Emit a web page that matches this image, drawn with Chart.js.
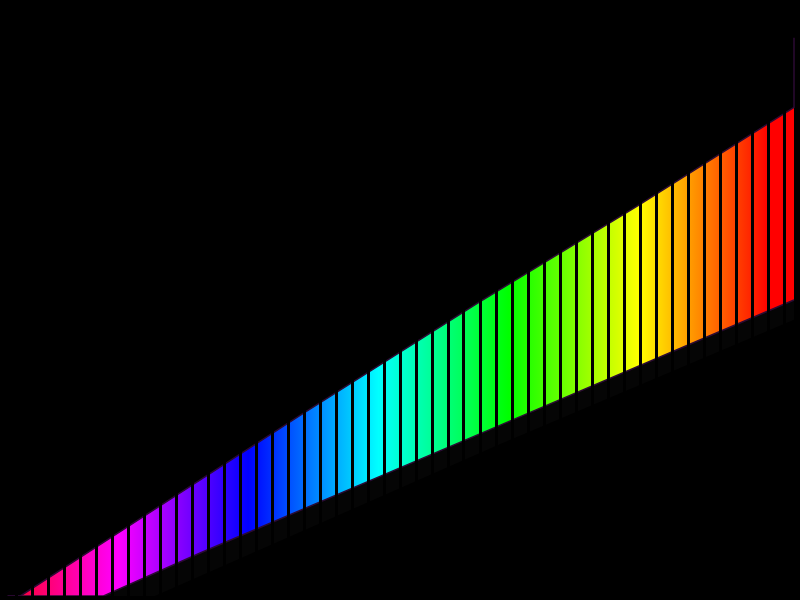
<!DOCTYPE html>
<html>
<head>
<meta charset="utf-8">
<script src="https://cdn.jsdelivr.net/npm/chart.js@4/dist/chart.umd.min.js"></script>
<style>
  html, body { margin: 0; padding: 0; background: #000; }
  canvas { display: block; background: #000; }
</style>
</head>
<body>
<canvas id="band" width="800" height="600"></canvas>
<script>
// Upper and lower edges of the band (x = stripe index, y = height)
const upperX = [-0.4, 0.4, 18, 29, 39, 48.75, 48.75];
const upperY = [0, 0, 18.3, 29.5, 39.3, 49.2, 56.2];

const lowerX = [-0.4, 5.6, 11.6, 30.4, 42.9, 48.75];
const lowerY = [0, 0, 4.3, 17.2, 25.8, 29.8];

// faint shadow under the band
const shadowX = [-0.4, 8.8, 30.4, 48.75];
const shadowY = [0, 0, 15.3, 27.8];

const toPoints = (xs, ys) => xs.map((x, i) => ({ x: x, y: ys[i] }));

// Rainbow fill, hue running from pink-red down to red across the band
function rainbow(context) {
    const chart = context.chart;
    const area = chart.chartArea;
    if (!area) return null;
    const xs = chart.scales.x;
    const x0 = xs.getPixelForValue(0.4);
    const x1 = xs.getPixelForValue(47.2);
    const g = chart.ctx.createLinearGradient(x0, 0, x1, 0);
    for (let i = 0; i <= 23; i++) {
        const h = 345 - i * 15;
        g.addColorStop(i / 23, `hsl(${h}, 100%, 50%)`);
    }
    return g;
}

const edge = '#2b0a33';

const ctx = document.getElementById('band').getContext('2d');
const bandChart = new Chart(ctx, {
    type: 'line',
    data: {
        datasets: [{
            label: 'upper',
            data: toPoints(upperX, upperY),
            borderColor: edge,
            borderWidth: 1.5,
            pointRadius: 0,
            fill: false,
        }, {
            label: 'lower',
            data: toPoints(lowerX, lowerY),
            borderColor: edge,
            borderWidth: 1.5,
            backgroundColor: rainbow,
            pointRadius: 0,
            fill: '-1',
        }, {
            label: 'shadow',
            data: toPoints(shadowX, shadowY),
            borderWidth: 0,
            borderColor: 'rgba(0,0,0,0)',
            backgroundColor: 'rgba(255,255,255,0.018)',
            pointRadius: 0,
            fill: '-1',
        }]
    },
    options: {
        responsive: false,
        animation: false,
        events: [],
        layout: { padding: { left: 0, right: 0, top: 0, bottom: 4 } },
        plugins: {
            legend: { display: false },
            tooltip: { enabled: false },
        },
        scales: {
            x: {
                type: 'linear',
                min: -0.875,
                max: 49.125,
                border: { display: false },
                // black grid lines drawn over the band make the stripes
                grid: { color: '#000', lineWidth: 3, drawTicks: false, z: 1 },
                ticks: { display: false, stepSize: 1, includeBounds: false },
            },
            y: {
                display: false,
                min: 0,
                max: 60,
            }
        }
    }
});
</script>
</body>
</html>
